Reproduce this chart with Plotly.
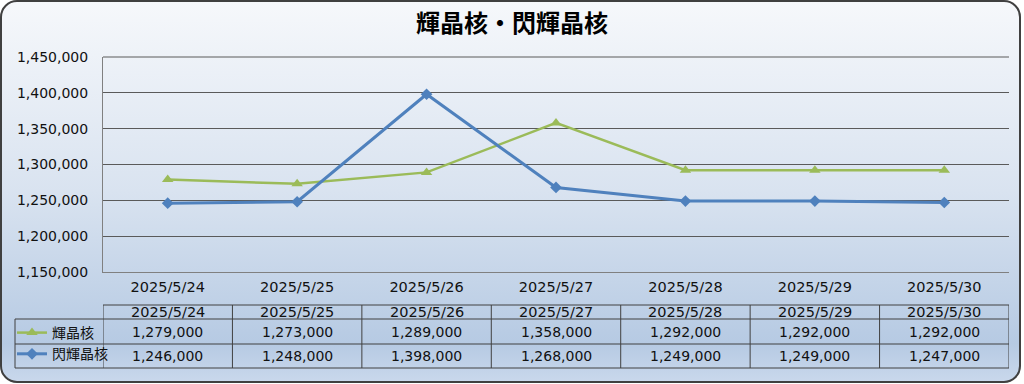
import base64
import plotly.graph_objects as go

# ---- data ----
dates = ["2025/5/24", "2025/5/25", "2025/5/26", "2025/5/27", "2025/5/28", "2025/5/29", "2025/5/30"]
series_names = ["輝晶核", "閃輝晶核"]
kiseikaku = [1279000, 1273000, 1289000, 1358000, 1292000, 1292000, 1292000]
senkiseikaku = [1246000, 1248000, 1398000, 1268000, 1249000, 1249000, 1247000]
y_ticks = [1150000, 1200000, 1250000, 1300000, 1350000, 1400000, 1450000]
title_text = "輝晶核・閃輝晶核"

W, H = 1024, 384
FONT = "DejaVu Sans, Noto Sans CJK JP"
TFONT = "Noto Sans CJK JP"
GREEN = "#9BBB59"
BLUE = "#4F81BD"
LINEC = "#404040"
TXT = "#111111"

def px(x):
    return x / W

def py(y):
    return 1 - y / H

# plot area pixels
PL, PR, PT, PB = 103, 1009, 57, 272
# table rows pixels
T_TOP, T_H1, T_R1, T_R2 = 305, 319, 344, 368
LEG_L = 15

svg = f'''<svg xmlns="http://www.w3.org/2000/svg" width="{W}" height="{H}" viewBox="0 0 {W} {H}" preserveAspectRatio="none">
<defs><linearGradient id="g" x1="0" y1="0" x2="0" y2="1">
<stop offset="0" stop-color="#f6f8fb"/>
<stop offset="0.5" stop-color="#d9e3f0"/>
<stop offset="0.9" stop-color="#b6cae3"/>
<stop offset="1" stop-color="#c9d8ec"/>
</linearGradient></defs>
<rect x="1" y="1" width="1019" height="381" rx="16" ry="16" fill="url(#g)" stroke="#404040" stroke-width="2"/>
</svg>'''
src = "data:image/svg+xml;base64," + base64.b64encode(svg.encode()).decode()

fig = go.Figure()
fig.add_trace(go.Scatter(
    x=dates, y=kiseikaku, name=series_names[0], mode="lines+markers",
    line=dict(color=GREEN, width=2.5),
    marker=dict(symbol="triangle-up", size=10, color=GREEN),
))
fig.add_trace(go.Scatter(
    x=dates, y=senkiseikaku, name=series_names[1], mode="lines+markers",
    line=dict(color=BLUE, width=3),
    marker=dict(symbol="diamond", size=9, color=BLUE),
))

shapes = []
annotations = []

# top border of plot area
shapes.append(dict(type="line", xref="paper", yref="paper", x0=px(PL), x1=px(PR),
                   y0=py(PT), y1=py(PT), line=dict(color="#5a5a5a", width=1)))

# table horizontal lines
shapes.append(dict(type="line", xref="x", yref="paper", x0=-0.5, x1=len(dates) - 0.5,
                   y0=py(T_TOP), y1=py(T_TOP), line=dict(color=LINEC, width=1)))
for yy in (T_H1, T_R1, T_R2):
    shapes.append(dict(type="line", xref="paper", yref="paper", x0=px(LEG_L), x1=px(PR),
                       y0=py(yy), y1=py(yy), line=dict(color=LINEC, width=1)))
# vertical lines
shapes.append(dict(type="line", xref="paper", yref="paper", x0=px(LEG_L), x1=px(LEG_L),
                   y0=py(T_H1), y1=py(T_R2), line=dict(color=LINEC, width=1)))
for i in range(len(dates) + 1):
    shapes.append(dict(type="line", xref="x", yref="paper", x0=i - 0.5, x1=i - 0.5,
                       y0=py(T_TOP), y1=py(T_R2), line=dict(color=LINEC, width=1)))

# table text
for i, d in enumerate(dates):
    annotations.append(dict(x=d, xref="x", y=py((T_TOP + T_H1) / 2), yref="paper",
                            text=d, showarrow=False, font=dict(family=FONT, size=14.5, color=TXT),
                            yanchor="middle"))
    for vals, (a, b) in ((kiseikaku, (T_H1, T_R1)), (senkiseikaku, (T_R1, T_R2))):
        annotations.append(dict(x=d, xref="x", y=py((a + b) / 2), yref="paper",
                                text=f"{vals[i]:,}", showarrow=False,
                                font=dict(family=FONT, size=14, color=TXT), yanchor="middle"))

fig.update_layout(
    width=W, height=H,
    margin=dict(l=0, r=0, t=0, b=0, autoexpand=False),
    paper_bgcolor="rgba(0,0,0,0)",
    plot_bgcolor="white",
    font=dict(family=FONT, size=14, color=TXT),
    title=dict(text=f"<b>{title_text}</b>", x=0.5, xanchor="center", y=py(24), yanchor="middle",
               font=dict(family=TFONT, size=24, color="#000")),
    xaxis=dict(domain=[px(PL), px(PR)], type="category", range=[-0.5, len(dates) - 0.5],
               showgrid=False, showline=True, linecolor="#808080", linewidth=1,
               ticks="", ticklabelstandoff=2, tickfont=dict(family=FONT, size=14.5, color=TXT),
               fixedrange=True, automargin=False),
    yaxis=dict(domain=[py(PB), py(PT)], range=[y_ticks[0], y_ticks[-1]], tickvals=y_ticks,
               tickformat=",d", showgrid=True, gridcolor="#5a5a5a", gridwidth=1,
               showline=True, linecolor="#808080", linewidth=1, zeroline=False,
               ticks="", ticklabelstandoff=11, tickfont=dict(family=FONT, size=14, color=TXT),
               fixedrange=True, automargin=False),
    showlegend=True,
    legend=dict(x=px(LEG_L - 3), xanchor="left", y=py(T_H1 - 2), yanchor="top",
                xref="container", yref="container",
                bgcolor="rgba(0,0,0,0)", borderwidth=0,
                font=dict(family=TFONT, size=14, color=TXT),
                itemwidth=30, tracegroupgap=0),
    shapes=shapes,
    annotations=annotations,
    images=[dict(source=src, xref="paper", yref="paper", x=0, y=1, sizex=1, sizey=1,
                 sizing="stretch", xanchor="left", yanchor="top", layer="below")],
)

fig.write_html("out.html", config={"displayModeBar": False},
               post_script="document.body.style.margin='0';")
